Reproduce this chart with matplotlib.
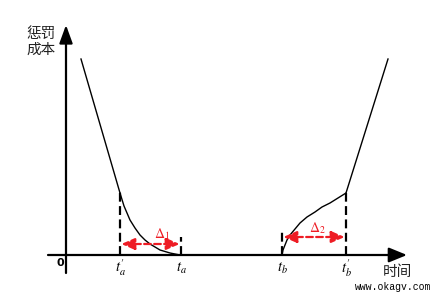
import matplotlib
matplotlib.use("Agg")
import matplotlib.pyplot as plt

plt.rcParams['font.family'] = ['Noto Sans CJK SC', 'DejaVu Sans']
plt.rcParams['mathtext.fontset'] = 'stix'

# ---- datos (origen en el cruce de ejes) ----
ta_p, ta = 54, 115          # t_a', t_a
tb, tb_p = 216, 280         # t_b, t_b'

linea_izq_x = [15, 54]
linea_izq_y = [196, 62]
curva_izq_x = [54, 58, 64, 69, 74, 79, 84, 89, 94, 99, 104, 109, 114]
curva_izq_y = [62, 49, 35, 27, 20, 15, 11, 8, 5, 3.5, 2, 1, 0]
curva_der_x = [216, 217, 219, 221, 224, 229, 234, 241, 249, 256, 264, 272, 280]
curva_der_y = [0, 5, 10, 15, 20, 26, 32, 38, 43, 48, 52, 57, 62]
linea_der_x = [280, 322]
linea_der_y = [62, 196]

marca_ta_h = 18
marca_tb_h = 26
flecha1_y = 11
flecha2_y = 18

etiquetas_x = [r"$t_a^{\prime}$", r"$t_a$", r"$t_b$", r"$t_b^{\prime}$"]
pos_etiquetas = [ta_p, ta, tb, tb_p]

fig = plt.figure(figsize=(4.35, 2.93), dpi=100)
ax = fig.add_axes([0, 0, 1, 1])
ax.set_xlim(-66, 369)
ax.set_ylim(-38, 255)
ax.axis('off')

# ejes con flecha
ax.annotate('', xy=(341, 0), xytext=(-18, 0),
            arrowprops=dict(arrowstyle='-|>,head_length=1.1,head_width=0.45',
                            color='black', lw=1.6, shrinkA=0, shrinkB=0))
ax.annotate('', xy=(0, 230), xytext=(0, -18),
            arrowprops=dict(arrowstyle='-|>,head_length=1.1,head_width=0.4',
                            color='black', lw=1.6, shrinkA=0, shrinkB=0))

# costo de penalización
ax.plot(linea_izq_x, linea_izq_y, color='black', lw=1.0)
ax.plot(curva_izq_x, curva_izq_y, color='black', lw=1.0)
ax.plot(curva_der_x, curva_der_y, color='black', lw=1.0)
ax.plot(linea_der_x, linea_der_y, color='black', lw=1.0)

# líneas punteadas verticales
dash = dict(color='black', lw=1.6, linestyle=(0, (4, 2)))
ax.plot([ta_p, ta_p], [0, curva_izq_y[0]], **dash)
ax.plot([ta, ta], [0, marca_ta_h], **dash)
ax.plot([tb, tb], [0, marca_tb_h], **dash)
ax.plot([tb_p, tb_p], [0, curva_der_y[-1]], **dash)

# flechas rojas Δ
for x0, x1, yy in [(ta_p, ta, flecha1_y), (tb, tb_p, flecha2_y)]:
    ax.annotate('', xy=(x1, yy), xytext=(x0, yy),
                arrowprops=dict(arrowstyle='<|-|>,head_length=0.8,head_width=0.35',
                                color='#ee1c24', lw=1.6, linestyle=(0, (3, 1.5)),
                                shrinkA=1, shrinkB=1))
ax.text(96, 21, r"$\mathrm{\Delta}_1$", color='#ee1c24', fontsize=10,
        ha='center', va='center')
ax.text(251, 27, r"$\mathrm{\Delta}_2$", color='#ee1c24', fontsize=10,
        ha='center', va='center')

# etiquetas
for x, s in zip(pos_etiquetas, etiquetas_x):
    ax.text(x, -13, s, fontsize=10.5, ha='center', va='center')
ax.text(-6, -8, '0', fontsize=8, fontweight='bold', ha='center', va='center',
        family='DejaVu Sans')
ax.text(331, -17, '时间', fontsize=10.5, ha='center', va='center', color='#222222')
ax.text(-25, 213, '惩罚\n成本', fontsize=10.5, ha='center', va='center',
        linespacing=1.2, color='#222222')
ax.text(327, -32, 'www.okagv.com', fontsize=7, ha='center', va='center',
        family='Liberation Mono')

fig.savefig('out.png', dpi=100)
